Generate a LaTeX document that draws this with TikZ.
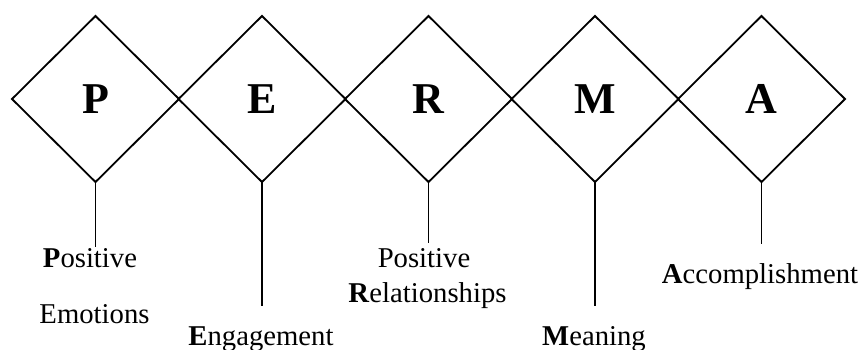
\documentclass[tikz,border=0pt]{standalone}
\usepackage{fontspec}
\setmainfont{Liberation Serif}
\usetikzlibrary{shapes.geometric}
\begin{document}
\begin{tikzpicture}[x=1pt,y=-1pt,
  dia/.style={draw,line width=1.8pt,shape=diamond,inner sep=0pt,outer sep=0pt,
    minimum width=167pt,minimum height=166pt,font=\fontsize{44}{44}\selectfont\bfseries},
  lab/.style={anchor=base,inner sep=0pt,font=\fontsize{28.7}{30}\selectfont},
  stem/.style={line width=1.8pt}]
\useasboundingbox (0,0) rectangle (862,349);
\node[dia] (P) at (95.5,99) {P};
\node[dia] (E) at (262,99) {E};
\node[dia] (R) at (428.5,99) {R};
\node[dia] (M) at (595,99) {M};
\node[dia] (A) at (761.5,99) {A};
\coordinate (pe) at (95.5,247);
\coordinate (ee) at (262,306);
\coordinate (re) at (428.5,243);
\coordinate (me) at (595,306);
\coordinate (ae) at (761.5,244);
\draw[stem] (P.south) -- (pe);
\draw[stem] (E.south) -- (ee);
\draw[stem] (R.south) -- (re);
\draw[stem] (M.south) -- (me);
\draw[stem] (A.south) -- (ae);
\node[lab] (pl1) at (90,267) {\textbf{P}ositive};
\node[lab] (pl2) at (94.5,323) {Emotions};
\node[lab] (el) at (261,345) {\textbf{E}ngagement};
\node[lab] (rl1) at (424,267) {Positive};
\node[lab] (rl2) at (427.5,302) {\textbf{R}elationships};
\node[lab] (ml) at (594,345) {\textbf{M}eaning};
\node[lab] (al) at (760,283) {\textbf{A}ccomplishment};
\end{tikzpicture}
\end{document}
